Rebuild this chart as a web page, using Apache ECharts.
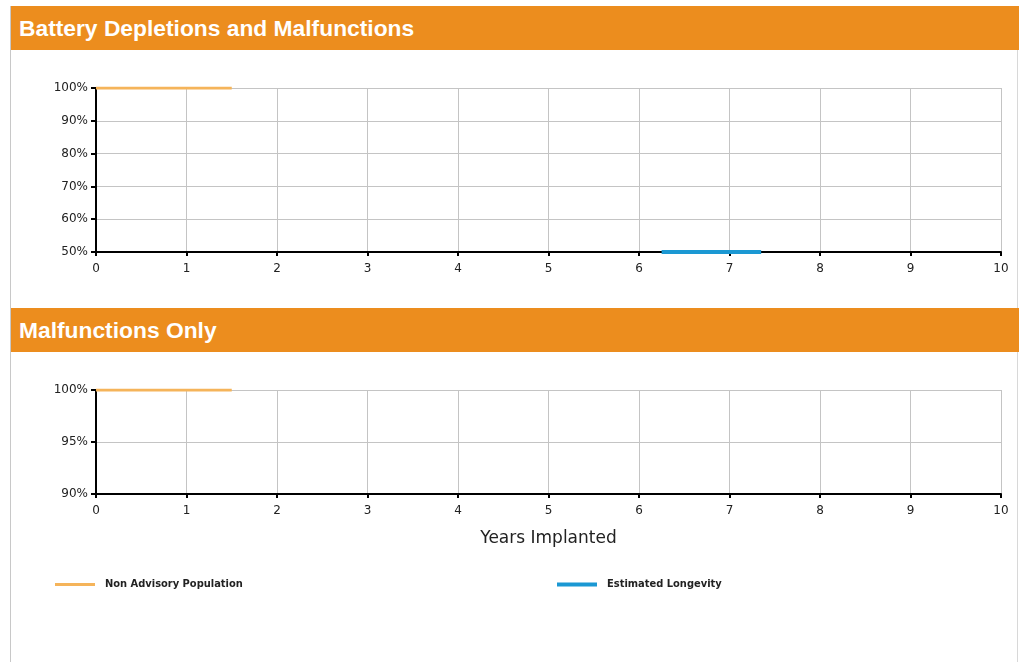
<!DOCTYPE html>
<html><head><meta charset="utf-8">
<script src="https://cdn.jsdelivr.net/npm/echarts@6/dist/echarts.min.js"></script>
<style>
html,body{margin:0;padding:0;background:#fff;}
#wrap{position:relative;width:1019px;height:662px;overflow:hidden;}
#chart{position:absolute;left:0;top:0;width:1019px;height:662px;}
.hdr{position:absolute;left:11px;width:1008px;height:44px;background:#ec8d1e;color:#fff;font:bold 22.8px "Liberation Sans",Arial,sans-serif;line-height:44px;padding-left:8px;box-sizing:border-box;}
.bl{position:absolute;left:10px;top:6px;width:1px;height:656px;background:#c8c8c8;}
.br{position:absolute;left:1017px;top:50px;width:1px;height:612px;background:#d8d8d8;}
</style></head>
<body><div id="wrap">
<div id="chart"></div>
<div class="bl"></div><div class="br"></div>
<div class="hdr" style="top:6px">Battery Depletions and Malfunctions</div>
<div class="hdr" style="top:308px">Malfunctions Only</div>
</div>
<script>
const xTicks = [0,1,2,3,4,5,6,7,8,9,10];
const nonAdvisoryYears = [0, 1.5];
const nonAdvisoryAll = [100, 100];
const nonAdvisoryMalf = [100, 100];
const longevityYears = [6.25, 7.35];
const longevityAll = [50, 50];
const seriesNames = ['Non Advisory Population', 'Estimated Longevity'];
const xTitle = 'Years Implanted';

const orange = '#f5b45a', blue = '#1b98d3';
const labelFont = {fontFamily:'DejaVu Sans', fontSize:12, color:'#222'};
function xAx(idx, name){
  return {type:'value', gridIndex:idx, min:xTicks[0], max:xTicks[xTicks.length-1], interval:1,
    name:name||'', nameLocation:'middle', nameGap:36,
    nameTextStyle:{fontFamily:'DejaVu Sans', fontSize:17, color:'#222'},
    axisLine:{lineStyle:{color:'#000', width:2}},
    axisTick:{show:true, length:4, lineStyle:{color:'#000', width:2}},
    axisLabel:Object.assign({margin:11}, labelFont),
    splitLine:{show:true, lineStyle:{color:'#c4c4c4', width:1}}};
}
function yAx(idx, min, max, iv){
  return {type:'value', gridIndex:idx, min:min, max:max, interval:iv,
    axisLine:{show:true, lineStyle:{color:'#000', width:2}},
    axisTick:{show:true, length:5, lineStyle:{color:'#000', width:2}},
    axisLabel:Object.assign({formatter:'{value}%', margin:8}, labelFont),
    splitLine:{show:true, lineStyle:{color:'#c4c4c4', width:1}}};
}
const pair = (xs, ys) => xs.map((x,i)=>[x, ys[i]]);
const legText = {fontFamily:'DejaVu Sans Condensed', fontWeight:'bold', fontSize:11, color:'#222', padding:[0,0,0,5]};
const chart = echarts.init(document.getElementById('chart'));
chart.setOption({
  animation:false,
  grid:[{left:96, right:18, top:88, height:164},{left:96, right:18, top:390, height:104}],
  xAxis:[xAx(0), xAx(1, xTitle)],
  yAxis:[yAx(0,50,100,10), yAx(1,90,100,5)],
  legend:[
    {data:[seriesNames[0]], left:55, top:579, padding:0, itemWidth:40, itemHeight:3, icon:'rect', itemGap:10, textStyle:legText},
    {data:[seriesNames[1]], left:557, top:579, padding:0, itemWidth:40, itemHeight:4, icon:'rect', itemGap:10, textStyle:legText}
  ],
  series:[
    {name:seriesNames[0], type:'line', xAxisIndex:0, yAxisIndex:0, data:pair(nonAdvisoryYears, nonAdvisoryAll),
     symbol:'none', lineStyle:{color:orange, width:3}, itemStyle:{color:orange}, z:5},
    {name:seriesNames[1], type:'line', xAxisIndex:0, yAxisIndex:0, data:pair(longevityYears, longevityAll),
     symbol:'none', lineStyle:{color:blue, width:4}, itemStyle:{color:blue}, z:5},
    {name:seriesNames[0], type:'line', xAxisIndex:1, yAxisIndex:1, data:pair(nonAdvisoryYears, nonAdvisoryMalf),
     symbol:'none', lineStyle:{color:orange, width:3}, itemStyle:{color:orange}, z:5}
  ]
});
</script></body></html>
